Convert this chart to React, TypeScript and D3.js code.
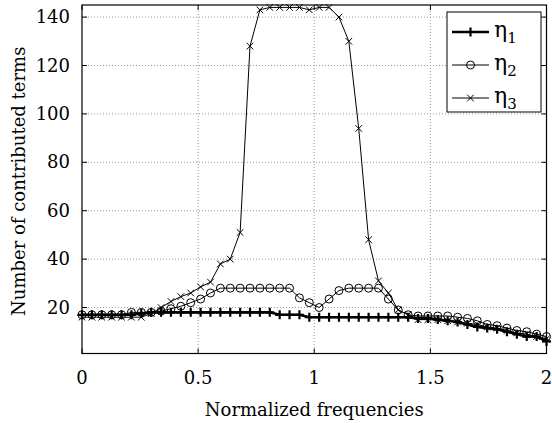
import React from 'react';
import * as d3 from 'd3';

// sampling grid of the normalized frequency axis (48 equally spaced samples on [0, 2])
const freqs: number[] = d3.range(48).map((i) => (2 * i) / 47);

const eta1: number[] = [
  17, 17, 17, 17, 17, 17, 17.5, 18, 18, 18, 18, 18, 18, 18, 18, 18, 18, 18, 18, 18,
  17, 17, 17, 16, 16, 16, 16, 16, 16, 16, 16, 16, 16, 16,
  15.5, 15.5, 15, 14.5, 14, 13, 12, 11.5, 11, 10, 9, 8, 8, 6,
];
const eta2: number[] = [
  17, 17, 17, 17, 17, 18, 18, 18, 18.5, 19.5, 20.5, 22, 23.5, 26,
  28, 28, 28, 28, 28, 28, 28, 28,
  24, 22, 20, 23.5, 27, 28, 28, 28, 28,
  23.5, 19, 17, 16.5, 16.5, 16.5, 16.5, 16, 15.5, 14.5, 13, 12.5, 11.5, 10.5, 10, 9, 8,
];
const eta3: number[] = [
  16, 16, 16, 16, 16, 16, 16, 17.5, 20, 22.5, 24.5, 26, 28.5, 30.5, 38, 40, 51,
  128, 143, 144, 144, 144, 144, 143, 144, 144, 140, 130, 94, 48, 31, 26, 19, 17,
  15, 15, 15, 14.5, 14, 13.5, 13, 12, 11.5, 10.5, 9.5, 9, 8, 7,
];

const xTicks = [0, 0.5, 1, 1.5, 2];
const xTickLabels = ['0', '0.5', '1', '1.5', '2'];
const yTicks = [20, 40, 60, 80, 100, 120, 140];

const W = 552;
const H = 423;
const plot = { left: 82, right: 546.5, top: 5, bottom: 353.5 };
const font = 'DejaVu Serif, Liberation Serif, serif';

type MarkerKind = 'plus' | 'circle' | 'cross';

const Marker = ({ kind, x, y }: { kind: MarkerKind; x: number; y: number }) => {
  if (kind === 'plus') {
    return <path d={`M${x - 4.5},${y}H${x + 4.5}M${x},${y - 4.5}V${y + 4.5}`} stroke="#000" strokeWidth={2.2} />;
  }
  if (kind === 'circle') {
    return <circle cx={x} cy={y} r={4} fill="none" stroke="#000" strokeWidth={1} />;
  }
  const s = 3.3;
  return (
    <path
      d={`M${x - s},${y - s}L${x + s},${y + s}M${x - s},${y + s}L${x + s},${y - s}`}
      stroke="#000"
      strokeWidth={1}
    />
  );
};

const series: { name: string; values: number[]; kind: MarkerKind; width: number }[] = [
  { name: '1', values: eta1, kind: 'plus', width: 2.6 },
  { name: '2', values: eta2, kind: 'circle', width: 1 },
  { name: '3', values: eta3, kind: 'cross', width: 1 },
];

export default function App() {
  const x = d3.scaleLinear().domain([0, 2]).range([plot.left, plot.right]);
  const y = d3.scaleLinear().domain([1, 145]).range([plot.bottom, plot.top]);
  const line = d3
    .line<number>()
    .x((_, i) => x(freqs[i]))
    .y((d) => y(d));

  const legend = { x: 447, y: 12, w: 94, h: 100 };

  return (
    <svg
      width={W}
      height={H}
      style={{ position: 'absolute', left: 0, top: 0, background: '#fff' }}
    >
      <rect x={0} y={0} width={W} height={H} fill="#fff" />
      {/* grid */}
      {xTicks.slice(1, -1).map((t) => (
        <line key={'gx' + t} x1={x(t)} x2={x(t)} y1={plot.top} y2={plot.bottom} stroke="#999" strokeWidth={1} strokeDasharray="1,2" />
      ))}
      {yTicks.map((t) => (
        <line key={'gy' + t} x1={plot.left} x2={plot.right} y1={y(t)} y2={y(t)} stroke="#999" strokeWidth={1} strokeDasharray="1,2" />
      ))}
      {/* ticks */}
      {xTicks.map((t) => (
        <g key={'tx' + t}>
          <line x1={x(t)} x2={x(t)} y1={plot.bottom} y2={plot.bottom - 5} stroke="#000" />
          <line x1={x(t)} x2={x(t)} y1={plot.top} y2={plot.top + 5} stroke="#000" />
        </g>
      ))}
      {yTicks.map((t) => (
        <g key={'ty' + t}>
          <line x1={plot.left} x2={plot.left + 5} y1={y(t)} y2={y(t)} stroke="#000" />
          <line x1={plot.right} x2={plot.right - 5} y1={y(t)} y2={y(t)} stroke="#000" />
        </g>
      ))}
      {/* series */}
      {series.map((s) => (
        <g key={s.name}>
          <path d={line(s.values) || ''} fill="none" stroke="#000" strokeWidth={s.width} />
          {s.values.map((v, i) => (
            <Marker key={i} kind={s.kind} x={x(freqs[i])} y={y(v)} />
          ))}
        </g>
      ))}
      {/* frame */}
      <rect
        x={plot.left}
        y={plot.top}
        width={plot.right - plot.left}
        height={plot.bottom - plot.top}
        fill="none"
        stroke="#000"
        strokeWidth={1.2}
      />
      <g fontFamily={font}>
        {/* tick labels */}
        {xTicks.map((t, i) => (
          <text key={'lx' + t} x={x(t)} y={384} textAnchor="middle" fontSize={18}>
            {xTickLabels[i]}
          </text>
        ))}
        {yTicks.map((t) => (
          <text key={'ly' + t} x={70} y={y(t) + 6} textAnchor="end" fontSize={18}>
            {t}
          </text>
        ))}
        <text x={(plot.left + plot.right) / 2} y={416} textAnchor="middle" fontSize={18}>
          Normalized frequencies
        </text>
        <text
          transform={`translate(25,${(plot.top + plot.bottom) / 2 + 2}) rotate(-90)`}
          textAnchor="middle"
          fontSize={18}
        >
          Number of contributed terms
        </text>
        {/* legend */}
        <rect x={legend.x} y={legend.y} width={legend.w} height={legend.h} fill="#fff" stroke="#000" strokeWidth={1} />
        {series.map((s, i) => {
          const ly = legend.y + 20 + i * 33;
          return (
            <g key={'lg' + s.name}>
              <line x1={legend.x + 5} x2={legend.x + 42} y1={ly} y2={ly} stroke="#000" strokeWidth={s.width} />
              <Marker kind={s.kind} x={legend.x + 23.5} y={ly} />
              <text x={legend.x + 47} y={ly + 5} fontSize={22}>
                η<tspan fontSize={15} dy={6}>{s.name}</tspan>
              </text>
            </g>
          );
        })}
      </g>
    </svg>
  );
}
